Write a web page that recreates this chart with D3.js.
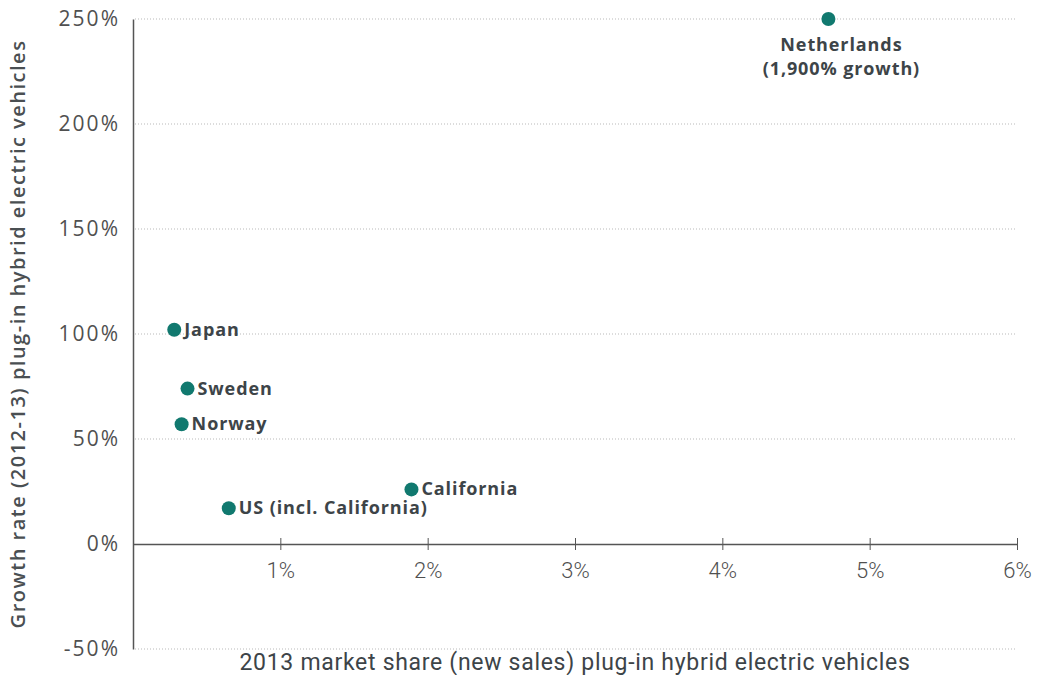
<!DOCTYPE html>
<html>
<head>
<meta charset="utf-8">
<script src="https://cdn.jsdelivr.net/npm/d3@7"></script>
<style>
  body { margin: 0; background: #fff; }
  svg { display: block; }
</style>
</head>
<body>
<div class="chart"></div>
<script>
// data
const countries = ["Netherlands", "Japan", "Sweden", "Norway", "California", "US (incl. California)"];
const marketShare = [4.72, 0.28, 0.37, 0.33, 1.89, 0.65];
const growthRate = [250, 102, 74, 57, 26, 17];
const xTicks = [1, 2, 3, 4, 5, 6];
const yTicks = [-50, 0, 50, 100, 150, 200, 250];

const width = 1041;
const height = 675;
const margin = { left: 133, right: 24, top: 19, bottom: 26 };

const svg = d3.select(".chart")
    .append("svg")
    .attr("width", width)
    .attr("height", height);

const x = d3.scaleLinear()
    .domain([0, 6])
    .range([margin.left, width - margin.right]);

const y = d3.scaleLinear()
    .domain([-50, 250])
    .range([height - margin.bottom, margin.top]);

const wideFont = "'Open Sans', 'Noto Sans', sans-serif";
const narrowFont = "'Roboto', 'Liberation Sans', sans-serif";

// dotted gridlines
svg.append("g")
    .selectAll("line")
    .data(yTicks.filter(d => d !== 0))
    .join("line")
    .attr("x1", x(0) + 2)
    .attr("x2", x(6))
    .attr("y1", d => y(d))
    .attr("y2", d => y(d))
    .style("stroke", "#b9b9b9")
    .style("stroke-width", 1)
    .style("stroke-dasharray", "1,2");

// y axis
const yAxis = svg.append("g")
    .attr("transform", `translate(${x(0)},0)`)
    .call(d3.axisLeft(y).tickValues(yTicks).tickSize(0).tickPadding(13).tickFormat(d => d + "%"));

yAxis.select(".domain").style("stroke", "#555").style("stroke-width", 1.5);
yAxis.selectAll("text")
    .style("font-family", wideFont)
    .style("font-size", "21px")
    .style("letter-spacing", "2px")
    .style("fill", "#505050");

// x axis at 0%
const xAxis = svg.append("g")
    .attr("transform", `translate(0,${y(0)})`)
    .call(d3.axisBottom(x).tickValues(xTicks).tickSizeInner(6).tickSizeOuter(0).tickPadding(12).tickFormat(d => d + "%"));

xAxis.select(".domain").style("stroke", "#555").style("stroke-width", 1.5);
xAxis.selectAll(".tick line")
    .attr("y1", -6)
    .style("stroke", "#555");
xAxis.selectAll("text")
    .style("font-family", narrowFont)
    .style("font-size", "22px")
    .style("font-weight", 300)
    .style("fill", "#505050");

// axis titles
svg.append("text")
    .attr("x", (x(0) + x(6)) / 2)
    .attr("y", 670)
    .attr("text-anchor", "middle")
    .style("font-family", narrowFont)
    .style("font-size", "23px")
    .style("letter-spacing", "0.7px")
    .style("fill", "#3d4448")
    .text("2013 market share (new sales) plug-in hybrid electric vehicles");

svg.append("text")
    .attr("transform", `translate(25,${(y(250) + y(-50)) / 2}) rotate(-90)`)
    .attr("text-anchor", "middle")
    .style("font-family", wideFont)
    .style("font-size", "20px")
    .style("letter-spacing", "1.5px")
    .style("font-weight", 600)
    .style("fill", "#4a4f52")
    .text("Growth rate (2012-13) plug-in hybrid electric vehicles");

// points
const points = countries.map((name, i) => ({ name, share: marketShare[i], growth: growthRate[i] }));

svg.append("g")
    .selectAll("circle")
    .data(points)
    .join("circle")
    .attr("cx", d => x(d.share))
    .attr("cy", d => y(d.growth))
    .attr("r", 7)
    .style("fill", "#11796f");

const labelStyle = sel => sel
    .style("font-family", wideFont)
    .style("font-size", "18px")
    .style("letter-spacing", "0.9px")
    .style("font-weight", 700)
    .style("fill", "#3d4448");

svg.append("g")
    .selectAll("text")
    .data(points.filter(d => d.name !== "Netherlands"))
    .join("text")
    .attr("x", d => x(d.share) + 10)
    .attr("y", d => y(d.growth) + 6)
    .text(d => d.name)
    .call(labelStyle);

const nl = points[0];
const nlLabel = svg.append("text")
    .attr("x", x(nl.share) + 13)
    .attr("y", y(nl.growth) + 32)
    .attr("text-anchor", "middle")
    .call(labelStyle);
nlLabel.append("tspan").attr("x", x(nl.share) + 13).text("Netherlands");
nlLabel.append("tspan").attr("x", x(nl.share) + 13).attr("dy", 24).text("(1,900% growth)");
</script>
</body>
</html>
